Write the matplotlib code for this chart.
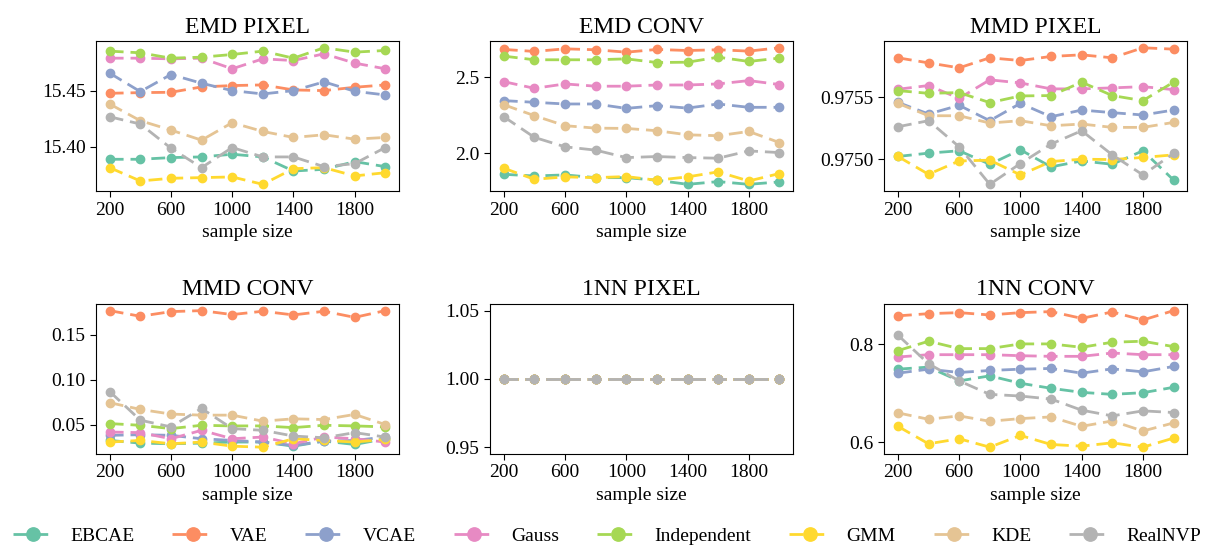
import numpy as np
import matplotlib.pyplot as plt
from matplotlib.ticker import FormatStrFormatter, MultipleLocator

plt.rcParams['font.family'] = ['Liberation Serif', 'DejaVu Serif']
plt.rcParams['mathtext.fontset'] = 'stix'

# --- Daten ---
sample_sizes = [200, 400, 600, 800, 1000, 1200, 1400, 1600, 1800, 2000]
models = ["EBCAE", "VAE", "VCAE", "Gauss", "Independent", "GMM", "KDE", "RealNVP"]
colors = ["#66c2a5", "#fc8d62", "#8da0cb", "#e78ac3", "#a6d854", "#ffd92f", "#e5c494", "#b3b3b3"]
titles = ["EMD PIXEL", "EMD CONV", "MMD PIXEL", "MMD CONV", "1NN PIXEL", "1NN CONV"]

emd_pixel = {
    "EBCAE": [15.3886, 15.3886, 15.3901, 15.3907, 15.3931, 15.3907, 15.3781, 15.3796, 15.3865, 15.3820],
    "VAE": [15.4476, 15.4482, 15.4485, 15.4533, 15.4545, 15.4551, 15.4506, 15.4500, 15.4530, 15.4551],
    "VCAE": [15.4656, 15.4491, 15.4644, 15.4566, 15.4500, 15.4470, 15.4500, 15.4578, 15.4494, 15.4461],
    "Gauss": [15.4790, 15.4790, 15.4784, 15.4790, 15.4695, 15.4784, 15.4769, 15.4829, 15.4746, 15.4695],
    "Independent": [15.4853, 15.4838, 15.4790, 15.4799, 15.4823, 15.4853, 15.4790, 15.4883, 15.4844, 15.4859],
    "GMM": [15.3811, 15.3692, 15.3716, 15.3722, 15.3728, 15.3662, 15.3802, 15.3811, 15.3737, 15.3766],
    "KDE": [15.4380, 15.4231, 15.4147, 15.4057, 15.4213, 15.4135, 15.4081, 15.4105, 15.4066, 15.4081],
    "RealNVP": [15.4266, 15.4201, 15.3985, 15.3811, 15.3991, 15.3907, 15.3907, 15.3820, 15.3847, 15.3991],
}
emd_conv = {
    "EBCAE": [1.861, 1.850, 1.857, 1.839, 1.839, 1.822, 1.795, 1.813, 1.795, 1.811],
    "VAE": [2.683, 2.670, 2.687, 2.681, 2.665, 2.683, 2.676, 2.681, 2.672, 2.694],
    "VCAE": [2.346, 2.335, 2.324, 2.324, 2.295, 2.313, 2.297, 2.324, 2.302, 2.302],
    "Gauss": [2.471, 2.427, 2.456, 2.441, 2.441, 2.449, 2.449, 2.456, 2.478, 2.452],
    "Independent": [2.639, 2.615, 2.615, 2.615, 2.621, 2.597, 2.599, 2.632, 2.604, 2.626],
    "GMM": [1.901, 1.828, 1.844, 1.839, 1.846, 1.822, 1.844, 1.877, 1.817, 1.866],
    "KDE": [2.319, 2.247, 2.181, 2.165, 2.163, 2.148, 2.121, 2.115, 2.143, 2.070],
    "RealNVP": [2.240, 2.104, 2.042, 2.020, 1.971, 1.978, 1.971, 1.967, 2.015, 2.004],
}
mmd_pixel = {
    "EBCAE": [0.975022, 0.975049, 0.975068, 0.974959, 0.975076, 0.974938, 0.974986, 0.974959, 0.975068, 0.974832],
    "VAE": [0.975819, 0.975778, 0.975738, 0.975819, 0.975797, 0.975830, 0.975843, 0.975819, 0.975900, 0.975889],
    "VCAE": [0.975459, 0.975365, 0.975435, 0.975311, 0.975451, 0.975343, 0.975397, 0.975376, 0.975357, 0.975397],
    "Gauss": [0.975565, 0.975595, 0.975492, 0.975641, 0.975616, 0.975568, 0.975568, 0.975576, 0.975586, 0.975562],
    "Independent": [0.975554, 0.975532, 0.975538, 0.975457, 0.975511, 0.975514, 0.975622, 0.975514, 0.975473, 0.975622],
    "GMM": [0.975022, 0.974878, 0.974986, 0.974992, 0.974873, 0.974981, 0.975000, 0.974997, 0.975014, 0.975035],
    "KDE": [0.975451, 0.975351, 0.975351, 0.975292, 0.975311, 0.975270, 0.975284, 0.975257, 0.975257, 0.975297],
    "RealNVP": [0.975262, 0.975311, 0.975100, 0.974797, 0.974965, 0.975122, 0.975230, 0.975035, 0.974873, 0.975046],
}
mmd_conv = {
    "EBCAE": [0.0323, 0.0293, 0.0286, 0.0293, 0.0305, 0.0305, 0.0259, 0.0316, 0.0278, 0.0342],
    "VAE": [0.1770, 0.1707, 0.1759, 0.1770, 0.1726, 0.1763, 0.1722, 0.1763, 0.1695, 0.1770],
    "VCAE": [0.0380, 0.0387, 0.0380, 0.0342, 0.0323, 0.0305, 0.0267, 0.0316, 0.0323, 0.0361],
    "Gauss": [0.0417, 0.0410, 0.0342, 0.0436, 0.0342, 0.0361, 0.0286, 0.0361, 0.0342, 0.0305],
    "Independent": [0.0511, 0.0492, 0.0455, 0.0492, 0.0485, 0.0485, 0.0466, 0.0492, 0.0485, 0.0474],
    "GMM": [0.0305, 0.0323, 0.0286, 0.0305, 0.0259, 0.0248, 0.0342, 0.0323, 0.0305, 0.0335],
    "KDE": [0.0744, 0.0669, 0.0617, 0.0605, 0.0605, 0.0538, 0.0564, 0.0556, 0.0613, 0.0500],
    "RealNVP": [0.0868, 0.0549, 0.0474, 0.0680, 0.0455, 0.0436, 0.0372, 0.0353, 0.0410, 0.0361],
}
nn_pixel = {m: [1.0] * 10 for m in models}
nn_conv = {
    "EBCAE": [0.7491, 0.7533, 0.7251, 0.7354, 0.7203, 0.7100, 0.7017, 0.6976, 0.7010, 0.7120],
    "VAE": [0.8580, 0.8625, 0.8646, 0.8598, 0.8646, 0.8667, 0.8529, 0.8660, 0.8495, 0.8687],
    "VCAE": [0.7409, 0.7491, 0.7423, 0.7464, 0.7491, 0.7505, 0.7409, 0.7498, 0.7436, 0.7546],
    "Gauss": [0.7739, 0.7787, 0.7787, 0.7787, 0.7766, 0.7753, 0.7753, 0.7821, 0.7787, 0.7787],
    "Independent": [0.7869, 0.8062, 0.7911, 0.7911, 0.8007, 0.8007, 0.7938, 0.8041, 0.8062, 0.7952],
    "GMM": [0.6323, 0.5966, 0.6069, 0.5897, 0.6137, 0.5952, 0.5918, 0.5986, 0.5897, 0.6082],
    "KDE": [0.6598, 0.6467, 0.6536, 0.6426, 0.6481, 0.6515, 0.6323, 0.6433, 0.6227, 0.6392],
    "RealNVP": [0.8186, 0.7601, 0.7251, 0.6976, 0.6942, 0.6880, 0.6653, 0.6536, 0.6639, 0.6605],
}

panels = [emd_pixel, emd_conv, mmd_pixel, mmd_conv, nn_pixel, nn_conv]
y_formats = ['%.2f', '%.1f', '%.4f', '%.2f', '%.2f', '%.1f']
y_steps = [0.05, 0.5, 0.0005, 0.05, 0.05, 0.2]

fig, axes = plt.subplots(2, 3, figsize=(12.14, 5.46), dpi=100)
fig.subplots_adjust(left=0.079, right=0.978, top=0.925, bottom=0.1685, wspace=0.30, hspace=0.75)

for ax, data, title, fmt, step in zip(axes.flat, panels, titles, y_formats, y_steps):
    for model, color in zip(models, colors):
        ax.plot(sample_sizes, data[model], linestyle='--', dashes=(5, 2.5), marker='o',
                markersize=6, linewidth=2, color=color, label=model)
    ax.set_title(title, fontsize=17)
    ax.set_xlabel('sample size', fontsize=14)
    ax.set_xticks([200, 600, 1000, 1400, 1800])
    ax.yaxis.set_major_locator(MultipleLocator(step))
    ax.yaxis.set_major_formatter(FormatStrFormatter(fmt))
    ax.tick_params(labelsize=14, length=4, direction='out')

handles, labels = axes[0, 0].get_legend_handles_labels()
fig.legend(handles, labels, loc='lower center', bbox_to_anchor=(0.5, -0.03), ncol=8,
           frameon=False, fontsize=14, handlelength=2.1, handletextpad=0.85, columnspacing=1.95,
           markerscale=1.6)

plt.savefig('out.png', dpi=100)
